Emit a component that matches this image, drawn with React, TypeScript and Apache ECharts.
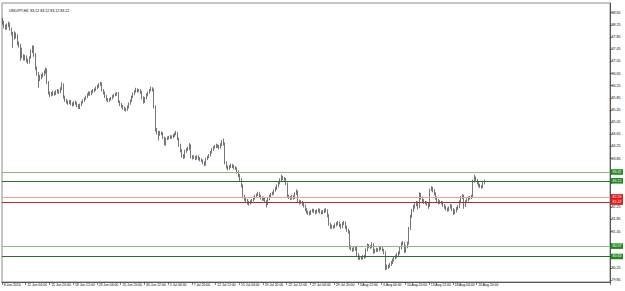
import React, { useEffect, useRef } from "react";
import * as echarts from "echarts";

const titleText = "USDJPY,H4  83.12 83.12 83.12 83.12";

const xLabels = [
  "8 Jun 2010", "11 Jun 04:00", "15 Jun 20:00", "18 Jun 12:00", "23 Jun 04:00",
  "25 Jun 20:00", "30 Jun 12:00", "5 Jul 04:00", "7 Jul 20:00", "12 Jul 12:00",
  "15 Jul 04:00", "19 Jul 20:00", "22 Jul 12:00", "27 Jul 04:00", "29 Jul 20:00",
  "3 Aug 12:00", "6 Aug 04:00", "10 Aug 20:00", "13 Aug 12:00", "18 Aug 04:00",
  "20 Aug 20:00",
];

const yTicks = [
  88.65, 88.25, 87.85, 87.45, 87.05, 86.65, 86.25, 85.85, 85.45, 85.05, 84.65,
  84.25, 83.85, 83.45, 83.05, 82.65, 82.25, 81.85, 81.45, 81.05, 80.65, 80.25, 79.85,
];

// labels not hidden behind the level boxes
const yLabelValues = [
  88.65, 88.25, 87.85, 87.45, 87.05, 86.65, 86.25, 85.85, 85.45, 85.05, 84.65,
  84.25, 83.85, 82.25, 81.85, 81.45, 80.25, 79.85,
];

const levels = [83.41, 83.12, 82.59, 82.42, 80.97, 80.63];

const opens = [
  88.40, 88.32, 88.20, 88.15, 88.24, 88.28, 88.12, 87.98, 87.82, 87.96,
  87.90, 87.63, 87.58, 87.45, 87.22, 87.14, 87.20, 87.10, 87.02, 87.18,
  87.38, 87.52, 87.28, 86.82, 86.66, 86.48, 86.52, 86.58, 86.62, 86.70,
  86.78, 86.35, 86.02, 85.94, 85.98, 86.02, 85.98, 86.06, 86.09, 86.04,
  86.15, 86.30, 85.88, 85.78, 85.72, 85.68, 85.74, 85.66, 85.62, 85.70,
  85.68, 85.60, 85.52, 85.62, 85.70, 85.76, 85.82, 85.88, 85.96, 86.02,
  85.98, 86.05, 86.09, 86.12, 86.18, 86.22, 86.30, 86.32, 86.10, 86.02,
  85.90, 85.80, 85.76, 85.80, 85.84, 85.90, 85.94, 85.98, 86.00, 85.72,
  85.64, 85.58, 85.52, 85.48, 85.45, 85.55, 85.66, 85.76, 85.88, 85.98,
  86.06, 86.12, 86.08, 86.10, 86.04, 85.86, 85.72, 85.84, 85.95, 86.02,
  86.10, 86.16, 86.12, 85.55, 84.80, 84.72, 84.66, 84.70, 84.68, 84.55,
  84.32, 84.50, 84.52, 84.55, 84.58, 84.56, 84.61, 84.66, 84.70, 84.50,
  84.30, 84.12, 83.95, 83.90, 84.10, 84.15, 84.18, 84.30, 83.92, 83.88,
  83.90, 83.86, 83.92, 83.86, 83.82, 83.79, 83.72, 83.66, 83.84, 83.90,
  83.95, 84.05, 84.15, 84.22, 84.26, 84.28, 84.25, 84.22, 84.30, 84.40,
  84.35, 83.72, 83.58, 83.53, 83.58, 83.63, 83.60, 83.56, 83.53, 83.42,
  83.30, 83.15, 82.97, 82.60, 82.52, 82.48, 82.40, 82.38, 82.42, 82.48,
  82.55, 82.60, 82.66, 82.70, 82.62, 82.56, 82.52, 82.55, 82.45, 82.35,
  82.52, 82.62, 82.68, 82.71, 82.80, 82.87, 82.95, 83.04, 83.15, 83.25,
  83.20, 83.18, 83.04, 82.62, 82.58, 82.55, 82.60, 82.56, 82.70, 82.78,
  82.45, 82.40, 82.42, 82.36, 82.30, 82.18, 82.10, 82.06, 82.05, 82.12,
  82.15, 82.12, 82.09, 82.12, 82.15, 82.10, 82.08, 82.10, 82.14, 82.15,
  81.98, 81.70, 81.60, 81.62, 81.60, 81.66, 81.70, 81.73, 81.66, 81.60,
  81.70, 81.74, 81.60, 81.50, 81.45, 80.95, 80.88, 80.84, 80.88, 80.90,
  80.70, 80.58, 80.60, 80.58, 80.62, 80.62, 80.85, 81.00, 80.96, 80.94,
  81.02, 80.78, 80.82, 80.86, 80.84, 80.88, 80.91, 80.85, 80.76, 80.30,
  80.26, 80.30, 80.36, 80.42, 80.50, 80.58, 80.62, 80.68, 80.74, 80.90,
  81.05, 81.08, 80.80, 80.95, 81.06, 81.55, 81.95, 82.15, 82.25, 82.32,
  82.40, 82.25, 82.68, 82.55, 82.48, 82.42, 82.40, 82.36, 82.28, 82.82,
  82.88, 82.80, 82.70, 82.56, 82.48, 82.40, 82.42, 82.40, 82.32, 82.26,
  82.20, 82.16, 82.24, 82.30, 82.18, 82.06, 82.12, 82.20, 82.26, 82.42,
  82.56, 82.62, 82.30, 82.42, 82.48, 82.54, 82.56, 82.60, 83.10, 83.22,
  83.14, 83.05, 82.98, 82.94, 82.92, 83.05,
];

const closes = [
  88.32, 88.20, 88.15, 88.24, 88.28, 88.12, 87.98, 87.82, 87.96, 87.90,
  87.63, 87.58, 87.45, 87.22, 87.14, 87.20, 87.10, 87.02, 87.18, 87.38,
  87.52, 87.28, 86.82, 86.66, 86.48, 86.52, 86.58, 86.62, 86.70, 86.78,
  86.35, 86.02, 85.94, 85.98, 86.02, 85.98, 86.06, 86.09, 86.04, 86.15,
  86.30, 85.88, 85.78, 85.72, 85.68, 85.74, 85.66, 85.62, 85.70, 85.68,
  85.60, 85.52, 85.62, 85.70, 85.76, 85.82, 85.88, 85.96, 86.02, 85.98,
  86.05, 86.09, 86.12, 86.18, 86.22, 86.30, 86.32, 86.10, 86.02, 85.90,
  85.80, 85.76, 85.80, 85.84, 85.90, 85.94, 85.98, 86.00, 85.72, 85.64,
  85.58, 85.52, 85.48, 85.45, 85.55, 85.66, 85.76, 85.88, 85.98, 86.06,
  86.12, 86.08, 86.10, 86.04, 85.86, 85.72, 85.84, 85.95, 86.02, 86.10,
  86.16, 86.12, 85.55, 84.80, 84.72, 84.66, 84.70, 84.68, 84.55, 84.32,
  84.50, 84.52, 84.55, 84.58, 84.56, 84.61, 84.66, 84.70, 84.50, 84.30,
  84.12, 83.95, 83.90, 84.10, 84.15, 84.18, 84.30, 83.92, 83.88, 83.90,
  83.86, 83.92, 83.86, 83.82, 83.79, 83.72, 83.66, 83.84, 83.90, 83.95,
  84.05, 84.15, 84.22, 84.26, 84.28, 84.25, 84.22, 84.30, 84.40, 84.35,
  83.72, 83.58, 83.53, 83.58, 83.63, 83.60, 83.56, 83.53, 83.42, 83.30,
  83.15, 82.97, 82.60, 82.52, 82.48, 82.40, 82.38, 82.42, 82.48, 82.55,
  82.60, 82.66, 82.70, 82.62, 82.56, 82.52, 82.55, 82.45, 82.35, 82.52,
  82.62, 82.68, 82.71, 82.80, 82.87, 82.95, 83.04, 83.15, 83.25, 83.20,
  83.18, 83.04, 82.62, 82.58, 82.55, 82.60, 82.56, 82.70, 82.78, 82.45,
  82.40, 82.42, 82.36, 82.30, 82.18, 82.10, 82.06, 82.05, 82.12, 82.15,
  82.12, 82.09, 82.12, 82.15, 82.10, 82.08, 82.10, 82.14, 82.15, 81.98,
  81.70, 81.60, 81.62, 81.60, 81.66, 81.70, 81.73, 81.66, 81.60, 81.70,
  81.74, 81.60, 81.50, 81.45, 80.95, 80.88, 80.84, 80.88, 80.90, 80.70,
  80.58, 80.60, 80.58, 80.62, 80.62, 80.85, 81.00, 80.96, 80.94, 81.02,
  80.78, 80.82, 80.86, 80.84, 80.88, 80.91, 80.85, 80.76, 80.30, 80.26,
  80.30, 80.36, 80.42, 80.50, 80.58, 80.62, 80.68, 80.74, 80.90, 81.05,
  81.08, 80.80, 80.95, 81.06, 81.55, 81.95, 82.15, 82.25, 82.32, 82.40,
  82.25, 82.68, 82.55, 82.48, 82.42, 82.40, 82.36, 82.28, 82.82, 82.88,
  82.80, 82.70, 82.56, 82.48, 82.40, 82.42, 82.40, 82.32, 82.26, 82.20,
  82.16, 82.24, 82.30, 82.18, 82.06, 82.12, 82.20, 82.26, 82.42, 82.56,
  82.62, 82.30, 82.42, 82.48, 82.54, 82.56, 82.60, 83.10, 83.22, 83.14,
  83.05, 82.98, 82.94, 82.92, 83.05, 83.12,
];

const highs = [
  88.48, 88.38, 88.26, 88.30, 88.36, 88.32, 88.16, 88.02, 88.04, 88.00,
  87.94, 87.70, 87.62, 87.50, 87.28, 87.26, 87.24, 87.14, 87.22, 87.44,
  87.58, 87.56, 87.32, 86.88, 86.70, 86.60, 86.64, 86.68, 86.76, 86.84,
  86.82, 86.40, 86.06, 86.04, 86.08, 86.06, 86.10, 86.14, 86.12, 86.20,
  86.36, 86.32, 85.92, 85.82, 85.76, 85.78, 85.78, 85.70, 85.74, 85.76,
  85.72, 85.64, 85.66, 85.74, 85.80, 85.86, 85.92, 86.00, 86.06, 86.06,
  86.10, 86.14, 86.16, 86.22, 86.28, 86.34, 86.38, 86.36, 86.14, 86.06,
  85.94, 85.84, 85.84, 85.88, 85.94, 85.98, 86.02, 86.04, 86.04, 85.76,
  85.68, 85.62, 85.56, 85.52, 85.60, 85.70, 85.80, 85.92, 86.02, 86.10,
  86.18, 86.16, 86.14, 86.14, 86.08, 85.90, 85.88, 86.00, 86.06, 86.14,
  86.22, 86.20, 86.16, 85.60, 84.86, 84.76, 84.76, 84.74, 84.72, 84.58,
  84.54, 84.58, 84.60, 84.62, 84.62, 84.66, 84.70, 84.76, 84.72, 84.54,
  84.34, 84.16, 84.00, 84.14, 84.20, 84.24, 84.36, 84.32, 83.96, 83.96,
  83.94, 83.96, 83.96, 83.90, 83.86, 83.82, 83.76, 83.88, 83.94, 84.00,
  84.10, 84.20, 84.26, 84.30, 84.34, 84.32, 84.30, 84.36, 84.46, 84.51,
  84.38, 83.76, 83.62, 83.64, 83.68, 83.68, 83.64, 83.60, 83.56, 83.46,
  83.34, 83.20, 83.00, 82.66, 82.58, 82.52, 82.46, 82.48, 82.52, 82.60,
  82.66, 82.70, 82.76, 82.74, 82.66, 82.60, 82.60, 82.58, 82.48, 82.56,
  82.66, 82.72, 82.76, 82.84, 82.92, 83.00, 83.10, 83.20, 83.32, 83.28,
  83.24, 83.22, 83.06, 82.66, 82.62, 82.66, 82.64, 82.74, 82.84, 82.80,
  82.50, 82.48, 82.46, 82.40, 82.34, 82.22, 82.14, 82.12, 82.16, 82.20,
  82.20, 82.16, 82.18, 82.22, 82.20, 82.14, 82.16, 82.20, 82.22, 82.18,
  82.02, 81.74, 81.68, 81.66, 81.72, 81.76, 81.80, 81.78, 81.70, 81.76,
  81.80, 81.78, 81.64, 81.54, 81.48, 81.00, 80.92, 80.94, 80.96, 80.94,
  80.74, 80.66, 80.64, 80.68, 80.68, 80.90, 81.06, 81.04, 81.00, 81.10,
  81.06, 80.88, 80.92, 80.90, 80.94, 80.96, 80.94, 80.88, 80.80, 80.36,
  80.36, 80.42, 80.48, 80.56, 80.64, 80.68, 80.74, 80.80, 80.96, 81.10,
  81.14, 81.10, 81.00, 81.12, 81.60, 82.00, 82.20, 82.32, 82.38, 82.46,
  82.44, 82.74, 82.72, 82.60, 82.52, 82.46, 82.44, 82.40, 82.86, 82.94,
  82.92, 82.84, 82.74, 82.60, 82.52, 82.48, 82.46, 82.44, 82.36, 82.30,
  82.24, 82.28, 82.36, 82.34, 82.22, 82.18, 82.26, 82.32, 82.48, 82.62,
  82.68, 82.66, 82.48, 82.54, 82.60, 82.62, 82.66, 83.16, 83.32, 83.26,
  83.18, 83.10, 83.02, 82.98, 83.10, 83.16,
];

const lows = [
  88.26, 88.14, 88.08, 88.10, 88.18, 88.06, 87.90, 87.50, 87.76, 87.80,
  87.58, 87.50, 87.07, 87.15, 87.08, 87.08, 87.02, 86.96, 86.98, 87.14,
  87.32, 87.20, 86.76, 86.58, 86.18, 86.40, 86.46, 86.52, 86.56, 86.64,
  86.30, 85.96, 85.88, 85.90, 85.92, 85.92, 85.94, 86.00, 85.98, 86.00,
  86.10, 85.82, 85.72, 85.66, 85.62, 85.64, 85.60, 85.56, 85.58, 85.62,
  85.54, 85.48, 85.48, 85.58, 85.66, 85.72, 85.78, 85.84, 85.92, 85.92,
  85.94, 86.00, 86.04, 86.08, 86.14, 86.18, 86.24, 86.06, 85.96, 85.84,
  85.74, 85.70, 85.72, 85.76, 85.80, 85.86, 85.90, 85.92, 85.68, 85.58,
  85.52, 85.46, 85.42, 85.40, 85.42, 85.50, 85.62, 85.72, 85.84, 85.94,
  86.02, 86.02, 86.04, 85.98, 85.80, 85.66, 85.68, 85.80, 85.90, 85.98,
  86.06, 86.06, 85.50, 84.74, 84.64, 84.45, 84.60, 84.62, 84.50, 84.28,
  84.28, 84.46, 84.48, 84.50, 84.50, 84.52, 84.56, 84.62, 84.46, 84.24,
  84.06, 83.88, 83.84, 83.86, 84.04, 84.10, 84.14, 83.86, 83.82, 83.84,
  83.80, 83.82, 83.80, 83.76, 83.74, 83.66, 83.60, 83.62, 83.80, 83.86,
  83.92, 84.02, 84.10, 84.18, 84.20, 84.20, 84.16, 84.18, 84.26, 84.28,
  83.66, 83.52, 83.46, 83.48, 83.54, 83.54, 83.50, 83.48, 83.36, 83.24,
  83.08, 82.90, 82.54, 82.46, 82.42, 82.34, 82.30, 82.34, 82.38, 82.44,
  82.50, 82.56, 82.62, 82.56, 82.50, 82.46, 82.46, 82.40, 82.24, 82.32,
  82.48, 82.58, 82.64, 82.66, 82.76, 82.82, 82.90, 83.00, 83.10, 83.14,
  83.12, 82.98, 82.56, 82.52, 82.48, 82.50, 82.50, 82.52, 82.66, 82.40,
  82.34, 82.36, 82.30, 82.24, 82.12, 82.04, 82.00, 81.98, 82.00, 82.08,
  82.06, 82.02, 82.04, 82.08, 82.04, 82.02, 82.02, 82.06, 82.08, 81.92,
  81.64, 81.54, 81.54, 81.54, 81.56, 81.62, 81.66, 81.60, 81.54, 81.56,
  81.66, 81.54, 81.44, 81.38, 80.88, 80.82, 80.78, 80.80, 80.82, 80.64,
  80.52, 80.52, 80.52, 80.54, 80.56, 80.58, 80.80, 80.90, 80.88, 80.90,
  80.72, 80.74, 80.78, 80.78, 80.80, 80.84, 80.80, 80.70, 80.18, 80.20,
  80.22, 80.26, 80.32, 80.38, 80.46, 80.54, 80.58, 80.64, 80.70, 80.86,
  81.00, 80.74, 80.76, 80.90, 81.02, 81.50, 81.90, 82.10, 82.20, 82.28,
  82.18, 82.22, 82.50, 82.42, 82.36, 82.34, 82.30, 82.20, 82.26, 82.78,
  82.74, 82.64, 82.50, 82.42, 82.34, 82.36, 82.34, 82.26, 82.20, 82.14,
  82.10, 82.12, 82.20, 82.12, 82.00, 82.02, 82.08, 82.16, 82.22, 82.38,
  82.52, 82.20, 82.26, 82.38, 82.44, 82.50, 82.52, 82.56, 83.06, 83.08,
  83.00, 82.92, 82.88, 82.86, 82.88, 83.00,
];

const SLOTS = 410;
const LABEL_EVERY = 16;
const FONT = "Liberation Sans, Arial, sans-serif";

const levelStyles = [
  { line: "#86bd86", box: "#1f8a1f" },
  { line: "#2b6e2b", box: "#1f8a1f" },
  { line: "#e8a0a0", box: "#e01818" },
  { line: "#c02828", box: "#e01818" },
  { line: "#86bd86", box: "#1f8a1f" },
  { line: "#2b6e2b", box: "#1f8a1f" },
];

export default function App() {
  const ref = useRef<HTMLDivElement>(null);

  useEffect(() => {
    if (!ref.current) return;
    const chart = echarts.init(ref.current, null, { renderer: "svg" });

    const categories = Array.from({ length: SLOTS }, (_, i) =>
      i % LABEL_EVERY === 0 && i / LABEL_EVERY < xLabels.length ? xLabels[i / LABEL_EVERY] : ""
    );
    const candles = opens.map((o, i) => [o, closes[i], lows[i], highs[i]]);
    const showIdx = (i: number) => i % LABEL_EVERY === 0 && i / LABEL_EVERY < xLabels.length;

    chart.setOption({
      animation: false,
      backgroundColor: "#ffffff",
      title: {
        text: titleText,
        left: 4,
        top: 4,
        textStyle: { fontSize: 3.6, fontWeight: "normal", color: "#000", fontFamily: FONT },
      },
      grid: {
        left: 2,
        right: 15,
        top: 3,
        bottom: 9,
        show: true,
        borderColor: "#8a8a8a",
        borderWidth: 1,
        backgroundColor: "#fff",
      },
      xAxis: {
        type: "category",
        data: categories,
        boundaryGap: true,
        axisLine: { show: true, lineStyle: { color: "#555", width: 1 } },
        axisTick: {
          show: true,
          interval: (i: number) => showIdx(i),
          length: 3,
          lineStyle: { color: "#333", width: 0.6 },
        },
        axisLabel: {
          interval: (i: number) => showIdx(i),
          fontSize: 3.4,
          color: "#000",
          fontFamily: FONT,
          align: "left",
          margin: 1.5,
          padding: [0, 0, 0, 1],
        },
        splitLine: { show: false },
      },
      yAxis: {
        type: "value",
        position: "right",
        min: 79.79,
        max: 88.97,
        scale: true,
        axisLine: { show: true, lineStyle: { color: "#555", width: 1 } },
        axisTick: {
          show: true,
          length: 2,
          customValues: yTicks,
          lineStyle: { color: "#333", width: 0.6 },
        },
        axisLabel: {
          customValues: yLabelValues,
          formatter: (v: number) => v.toFixed(2),
          fontSize: 3.6,
          color: "#000",
          fontFamily: FONT,
          margin: 1.5,
        },
        splitLine: { show: false },
      },
      series: [
        {
          type: "candlestick",
          data: candles,
          barWidth: 1,
          itemStyle: {
            color: "#ffffff",
            color0: "#000000",
            borderColor: "#1a1a1a",
            borderColor0: "#1a1a1a",
            borderWidth: 0.6,
          },
          markLine: {
            silent: true,
            symbol: "none",
            animation: false,
            data: levels.map((v, i) => ({
              yAxis: v,
              lineStyle: { color: levelStyles[i].line, width: 1, type: "solid" },
              label: {
                show: true,
                position: "end",
                distance: 1,
                formatter: v.toFixed(2),
                color: "#ffffff",
                backgroundColor: levelStyles[i].box,
                fontSize: 3.6,
                fontFamily: FONT,
                padding: [1, 1.5, 0.6, 1.5],
              },
            })),
          },
        },
      ],
    });

    return () => chart.dispose();
  }, []);

  return (
    <div
      ref={ref}
      style={{ position: "absolute", left: 0, top: 0, width: 625, height: 291 }}
    />
  );
}
